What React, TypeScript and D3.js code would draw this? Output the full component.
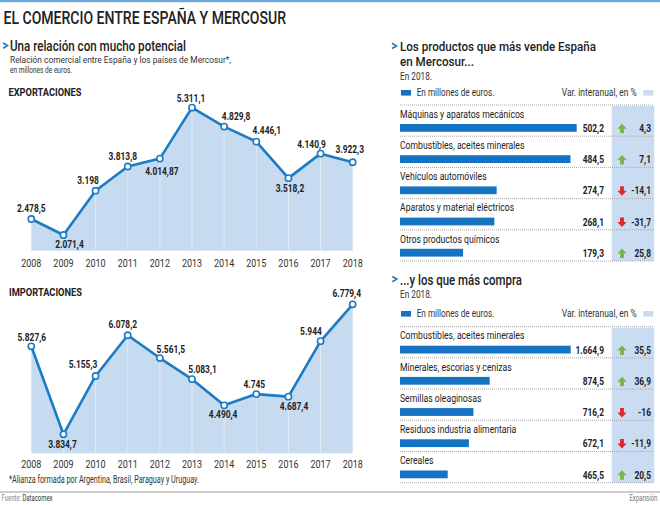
import React from "react";
import * as d3 from "d3";

// ---- Data ----
const years = [2008, 2009, 2010, 2011, 2012, 2013, 2014, 2015, 2016, 2017, 2018];
const exportaciones = [2478.5, 2071.4, 3198, 3813.8, 4014.87, 5311.1, 4829.8, 4446.1, 3518.2, 4140.9, 3922.3];
const importaciones = [5827.6, 3834.7, 5155.3, 6078.2, 5561.5, 5083.1, 4490.4, 4745, 4687.4, 5944, 6779.4];

const ventaProductos = [
  "Máquinas y aparatos mecánicos",
  "Combustibles, aceites minerales",
  "Vehículos automóviles",
  "Aparatos y material eléctricos",
  "Otros productos químicos",
];
const ventaValores = [502.2, 484.5, 274.7, 268.1, 179.3];
const ventaVariacion = [4.3, 7.1, -14.1, -31.7, 25.8];

const compraProductos = [
  "Combustibles, aceites minerales",
  "Minerales, escorias y cenizas",
  "Semillas oleaginosas",
  "Residuos industria alimentaria",
  "Cereales",
];
const compraValores = [1664.9, 874.5, 716.2, 672.1, 465.5];
const compraVariacion = [35.5, 36.9, -16, -11.9, 20.5];

// ---- Layout: value-label nudges (dx, dy from the point) ----
const exportLabelOffsets: [number, number][] = [
  [0, -7], [6, 13], [-7.6, -7], [-5, -6.5], [2, 16.5], [-1, -6],
  [12, -6.6], [10.6, -7.4], [1.5, 13.6], [-9, -6], [-3, -9],
];
const importLabelOffsets: [number, number][] = [
  [0.5, -5.6], [-1, 13.7], [-12.6, -7.7], [-5, -7], [11, -5], [10.5, -6],
  [-1, 13], [-2, -6], [5.5, 13.4], [-9.6, -6], [-6, -7.6],
];

const FONT = "Roboto, 'Liberation Sans', Arial, sans-serif";
const BLUE = "#1b7bc4";
const BAR = "#1473c3";
const AREA = "#c6daf0";
const LIGHT = "#cadcf1";
const INK = "#222";

const es = d3.formatLocale({ decimal: ",", thousands: ".", grouping: [3], currency: ["", "€"], minus: "-" } as any);
const fmt = es.format(",.2~f");

type TxtProps = {
  x: number; y: number; k?: number; anchor?: "start" | "middle" | "end";
  size?: number; weight?: number; fill?: string; children: React.ReactNode;
};
function Txt({ x, y, k = 0.8, anchor = "start", size = 10.5, weight = 400, fill = INK, children }: TxtProps) {
  return (
    <text transform={`translate(${x},${y}) scale(${k},1)`} textAnchor={anchor} fontSize={size}
      fontWeight={weight} fill={fill} fontFamily={FONT}>
      {children}
    </text>
  );
}

type FitProps = { x: number; y: number; w: number; size: number; weight?: number; fill?: string; anchor?: "start" | "end"; children: React.ReactNode };
function Fit({ x, y, w, size, weight = 400, fill = INK, anchor = "start", children }: FitProps) {
  return (
    <text x={x} y={y} textLength={w} lengthAdjust="spacingAndGlyphs" fontSize={size} fontWeight={weight}
      fill={fill} fontFamily={FONT} textAnchor={anchor}>
      {children}
    </text>
  );
}

function Chevron({ x, y }: { x: number; y: number }) {
  return <path d={`M${x},${y} L${x + 4.5},${y + 2.6} L${x},${y + 5.2}`} fill="none" stroke={BLUE} strokeWidth={1.6} />;
}

type LineProps = {
  values: number[]; offsets: [number, number][]; yDomain: [number, number];
  yRange: [number, number]; yearBaseline: number;
};
function LineArea({ values, offsets, yDomain, yRange, yearBaseline }: LineProps) {
  const x = d3.scalePoint<number>().domain(years).range([31.3, 352.7]);
  const y = d3.scaleLinear().domain(yDomain).range(yRange);
  const bottom = yRange[0];
  const area = d3.area<number>().x((_, i) => x(years[i])!).y0(bottom).y1((d) => y(d));
  const line = d3.line<number>().x((_, i) => x(years[i])!).y((d) => y(d));
  return (
    <g>
      <path d={area(values) || ""} fill={AREA} />
      {values.map((v, i) =>
        i > 0 && i < values.length - 1 ? (
          <line key={"g" + i} x1={x(years[i])} x2={x(years[i])} y1={y(v)} y2={bottom} stroke="#e4ebf3" strokeWidth={0.9} />
        ) : null
      )}
      <path d={line(values) || ""} fill="none" stroke={BLUE} strokeWidth={2.6} strokeLinejoin="round" />
      {values.map((v, i) => (
        <circle key={"c" + i} cx={x(years[i])} cy={y(v)} r={3.1} fill="#fff" stroke={BLUE} strokeWidth={1.6} />
      ))}
      {values.map((v, i) => (
        <Txt key={"l" + i} x={x(years[i])! + offsets[i][0]} y={y(v) + offsets[i][1]} anchor="middle"
          size={10.5} weight={700} k={0.8}>
          {fmt(v)}
        </Txt>
      ))}
      {years.map((yr) => (
        <Txt key={"y" + yr} x={x(yr)!} y={yearBaseline} anchor="middle" size={11.5} k={0.78} fill="#333">
          {String(yr)}
        </Txt>
      ))}
    </g>
  );
}

function Arrow({ cx, top, up }: { cx: number; top: number; up: boolean }) {
  const h = 9.5, hw = 4.6, sw = 1.9, head = 5;
  const pts = up
    ? [[cx, top], [cx + hw, top + head], [cx + sw, top + head], [cx + sw, top + h], [cx - sw, top + h], [cx - sw, top + head], [cx - hw, top + head]]
    : [[cx, top + h], [cx + hw, top + h - head], [cx + sw, top + h - head], [cx + sw, top], [cx - sw, top], [cx - sw, top + h - head], [cx - hw, top + h - head]];
  return <polygon points={pts.map((p) => p.join(",")).join(" ")} fill={up ? "#78b548" : "#e2252b"} />;
}

type TableProps = { top: number; productos: string[]; valores: number[]; variacion: number[]; barMax: number };
function Table({ top, productos, valores, variacion, barMax }: TableProps) {
  const pitch = 31.2;
  const x0 = 400;
  const w = d3.scaleLinear().domain([0, d3.max(valores)!]).range([0, barMax]);
  return (
    <g>
      <rect x={611.7} y={top + 1} width={42.6} height={pitch * productos.length - 1} fill={LIGHT} />
      <line x1={x0} x2={653.5} y1={top} y2={top} stroke="#a9a9a9" strokeDasharray="1,1" />
      {productos.map((p, i) => {
        const r = top + i * pitch;
        const v = variacion[i];
        return (
          <g key={p}>
            <Txt x={x0} y={r + 12.7} size={10.8} k={0.8} fill="#222">{p}</Txt>
            <rect x={x0} y={r + 19} width={w(valores[i])} height={7.8} fill={BAR} />
            <Txt x={604} y={r + 27} anchor="end" size={10.5} weight={700} k={0.8}>{fmt(valores[i])}</Txt>
            <Arrow cx={622} top={r + 18.8} up={v >= 0} />
            <Txt x={651} y={r + 27} anchor="end" size={10.5} weight={700} k={0.8}>{fmt(v)}</Txt>
            <line x1={x0} x2={653.5} y1={r + pitch} y2={r + pitch} stroke="#a9a9a9" strokeDasharray="1,1" />
          </g>
        );
      })}
    </g>
  );
}

function Legend({ y }: { y: number }) {
  return (
    <g>
      <rect x={401} y={y - 5.7} width={10} height={5.6} fill={BAR} />
      <Fit x={416.7} y={y} w={77.6} size={10.5} fill="#333">En millones de euros.</Fit>
      <Fit x={636.7} y={y} w={75} size={10.5} fill="#333" anchor="end">Var. interanual, en %</Fit>
      <rect x={643.3} y={y - 5.7} width={10} height={5.6} fill={LIGHT} />
    </g>
  );
}

export default function App() {
  return (
    <svg width={660} height={505} viewBox="0 0 660 505" style={{ position: "absolute", left: 0, top: 0, background: "#fff" }}>
      <rect x={0} y={0} width={660} height={505} fill="#fff" />
      <rect x={0} y={0} width={660} height={2.2} fill="#6ea8d9" />

      <Fit x={3.5} y={24.3} w={282.5} size={17.5} weight={500}>EL COMERCIO ENTRE ESPAÑA Y MERCOSUR</Fit>

      {/* Left panel */}
      <Chevron x={3} y={43} />
      <Fit x={10} y={50.7} w={176} size={14.5} weight={500}>Una relación con mucho potencial</Fit>
      <Fit x={10} y={62.8} w={221} size={9.8} fill="#333">Relación comercial entre España y los países de Mercosur*,</Fit>
      <Fit x={10} y={73} w={62} size={9.8} fill="#333">en millones de euros.</Fit>

      <Fit x={8.5} y={95.5} w={73} size={11} weight={700}>EXPORTACIONES</Fit>
      <LineArea values={exportaciones} offsets={exportLabelOffsets} yDomain={[1672, 5506]} yRange={[250.7, 100]} yearBaseline={266.7} />

      <Fit x={9} y={295.7} w={73} size={11} weight={700}>IMPORTACIONES</Fit>
      <LineArea values={importaciones} offsets={importLabelOffsets} yDomain={[3404, 7103]} yRange={[453.3, 290]} yearBaseline={467.5} />

      <Fit x={9} y={482.8} w={190} size={10} fill="#333">*Alianza formada por Argentina, Brasil, Paraguay y Uruguay.</Fit>

      {/* Right panel: sales */}
      <Chevron x={392} y={43.3} />
      <Fit x={400} y={51} w={196} size={13.5} weight={500}>Los productos que más vende España</Fit>
      <Fit x={400} y={66} w={74} size={13.5} weight={500}>en Mercosur...</Fit>
      <Fit x={400} y={80} w={32} size={10.5} fill="#333">En 2018.</Fit>
      <Legend y={95.7} />
      <Table top={105} productos={ventaProductos} valores={ventaValores} variacion={ventaVariacion} barMax={176.7} />

      {/* Right panel: purchases */}
      <Chevron x={392.3} y={276.5} />
      <Fit x={400} y={284.5} w={122} size={14.5} weight={500}>...y los que más compra</Fit>
      <Fit x={400} y={298.3} w={32} size={10.5} fill="#333">En 2018.</Fit>
      <Legend y={316.7} />
      <Table top={326.7} productos={compraProductos} valores={compraValores} variacion={compraVariacion} barMax={170.7} />

      {/* Footer */}
      <line x1={0} x2={660} y1={492} y2={492} stroke="#9a9a9a" strokeWidth={1} />
      <Txt x={1.5} y={501} size={8.5} k={0.7} fill="#888">
        <tspan>Fuente: </tspan>
        <tspan fill="#333">Datacomex</tspan>
      </Txt>
      <Txt x={657.5} y={500.5} size={8.5} k={0.72} fill="#777" anchor="end">Expansión</Txt>
    </svg>
  );
}
